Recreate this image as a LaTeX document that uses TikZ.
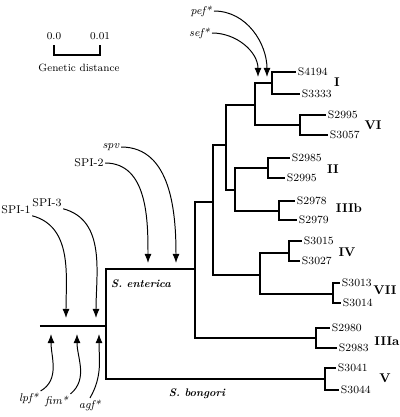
\documentclass[tikz,border=0pt]{standalone}
\usetikzlibrary{arrows.meta}
\tikzset{>=latex}
\begin{document}
\begin{tikzpicture}[x=0.025cm, y=-0.025cm,
  tree/.style={line width=1.3pt},
  gene/.style={line width=0.7pt, -{Latex[length=6.5pt,width=5pt]}},
  strain/.style={anchor=west, inner sep=1.2pt, font=\fontsize{7.8}{9}\selectfont},
  sero/.style={inner sep=1pt, font=\fontsize{9}{11}\selectfont\bfseries},
  islet/.style={inner sep=1pt, font=\fontsize{8}{9.5}\selectfont}]
\useasboundingbox (0,0) rectangle (400,417);

% scale bar
\node[islet, font=\fontsize{7.5}{9}\selectfont] (d0) at (54,36) {0.0};
\node[islet, font=\fontsize{7.5}{9}\selectfont] (d1) at (100,36) {0.01};
\node[islet, font=\fontsize{7.5}{9}\selectfont] (gd) at (79,68) {Genetic distance};
\coordinate (b0) at (54,55);
\coordinate (b1) at (100,55);
\draw[line width=1.3pt] (54,45) -- (b0) -- (b1) -- (100,45);

% strains
\node[strain] (s4194) at (296,72) {S4194};
\node[strain] (s3333) at (300,94) {S3333};
\node[strain] (s2995a) at (326,115) {S2995};
\node[strain] (s3057) at (328,135) {S3057};
\node[strain] (s2985) at (290,158) {S2985};
\node[strain] (s2995b) at (285,178) {S2995};
\node[strain] (s2978) at (295,201) {S2978};
\node[strain] (s2979) at (297,220) {S2979};
\node[strain] (s3015) at (302,241) {S3015};
\node[strain] (s3027) at (300,261) {S3027};
\node[strain] (s3013) at (340,283) {S3013};
\node[strain] (s3014) at (341,303) {S3014};
\node[strain] (s2980) at (330,328) {S2980};
\node[strain] (s2983) at (337,348) {S2983};
\node[strain] (s3041) at (336,368) {S3041};
\node[strain] (s3044) at (339,390) {S3044};

% subspecies groups
\node[sero] (gI) at (337,82) {I};
\node[sero] (gVI) at (373,125) {VI};
\node[sero] (gII) at (333,169) {II};
\node[sero] (gIIIb) at (349,208) {IIIb};
\node[sero] (gIV) at (347,252) {IV};
\node[sero] (gVII) at (385,290) {VII};
\node[sero] (gIIIa) at (387,341) {IIIa};
\node[sero] (gV) at (385,378) {V};

% branch points
\coordinate (nI) at (272,83);
\coordinate (nVI) at (300,125);
\coordinate (nE) at (255,105);
\coordinate (nII) at (268,168);
\coordinate (nIIIb) at (279,211);
\coordinate (nC) at (235,190);
\coordinate (nB) at (226,145);
\coordinate (nIV) at (289,253);
\coordinate (nVII) at (333,294);
\coordinate (nD) at (260,275);
\coordinate (nA) at (213,202);
\coordinate (nIIIa) at (316,338);
\coordinate (nEnt) at (195,269);
\coordinate (nV) at (325,379);
\coordinate (root) at (106,326);
\coordinate (rl) at (40,326);

% tree
\draw[tree] (s4194.west) -| (nI) |- (s3333.west);
\draw[tree] (s2995a.west) -| (nVI) |- (s3057.west);
\draw[tree] (s2985.west) -| (nII) |- (s2995b.west);
\draw[tree] (s2978.west) -| (nIIIb) |- (s2979.west);
\draw[tree] (s3015.west) -| (nIV) |- (s3027.west);
\draw[tree] (s3013.west) -| (nVII) |- (s3014.west);
\draw[tree] (s2980.west) -| (nIIIa) |- (s2983.west);
\draw[tree] (s3041.west) -| (nV) |- (s3044.west);
\draw[tree] (nI) -| (nE) |- (nVI);
\draw[tree] (nII) -| (nC) |- (nIIIb);
\draw[tree] (nE) -| (nB) |- (nC);
\draw[tree] (nIV) -| (nD) |- (nVII);
\draw[tree] (nB) -| (nA) |- (nD);
\draw[tree] (nA) -| (nEnt) |- (nIIIa);
\draw[tree] (nEnt) -| (root) |- (nV);
\draw[tree] (rl) -- (root);

\node[islet, font=\fontsize{7.8}{9}\selectfont\bfseries\itshape] (ent) at (141,284) {S. enterica};
\node[islet, font=\fontsize{7.8}{9}\selectfont\bfseries\itshape] (bon) at (197,394) {S. bongori};

% acquired genes
\node[islet, anchor=east] (pef) at (214,11) {\textit{pef*}};
\node[islet, anchor=east] (sef) at (212,33) {\textit{sef*}};
\node[islet] (spv) at (111,147) {\textit{spv}};
\node[islet] (spi2) at (89,163) {SPI-2};
\node[islet] (spi1) at (16,210) {SPI-1};
\node[islet] (spi3) at (47,203) {SPI-3};
\node[islet] (lpf) at (29,398) {\textit{lpf*}};
\node[islet] (fim) at (57,401) {\textit{fim*}};
\node[islet] (agf) at (90,405) {\textit{agf*}};

\coordinate (tpef) at (267,77);
\coordinate (tsef) at (258,77);
\coordinate (tspv) at (176,263);
\coordinate (tspi2) at (148,263);
\coordinate (tspi1) at (66,318);
\coordinate (tspi3) at (96,318);
\coordinate (tlpf) at (51,334);
\coordinate (tfim) at (77,334);
\coordinate (tagf) at (99,334);

\draw[gene] (pef.east) to[out=0, in=90] (tpef);
\draw[gene] (sef.east) to[out=0, in=90] (tsef);
\draw[gene] (spv.east) to[out=0, in=90] (tspv);
\draw[gene] (spi2.east) to[out=0, in=90] (tspi2);
\draw[gene] (spi1.south east) to[out=-15, in=90] (tspi1);
\draw[gene] (spi3.south east) to[out=-15, in=90] (tspi3);
\draw[gene] (lpf.north east) to[out=30, in=-90] (tlpf);
\draw[gene] (fim.north east) to[out=40, in=-90] (tfim);
\draw[gene] (agf.north) to[out=60, in=-90] (tagf);
\end{tikzpicture}
\end{document}
